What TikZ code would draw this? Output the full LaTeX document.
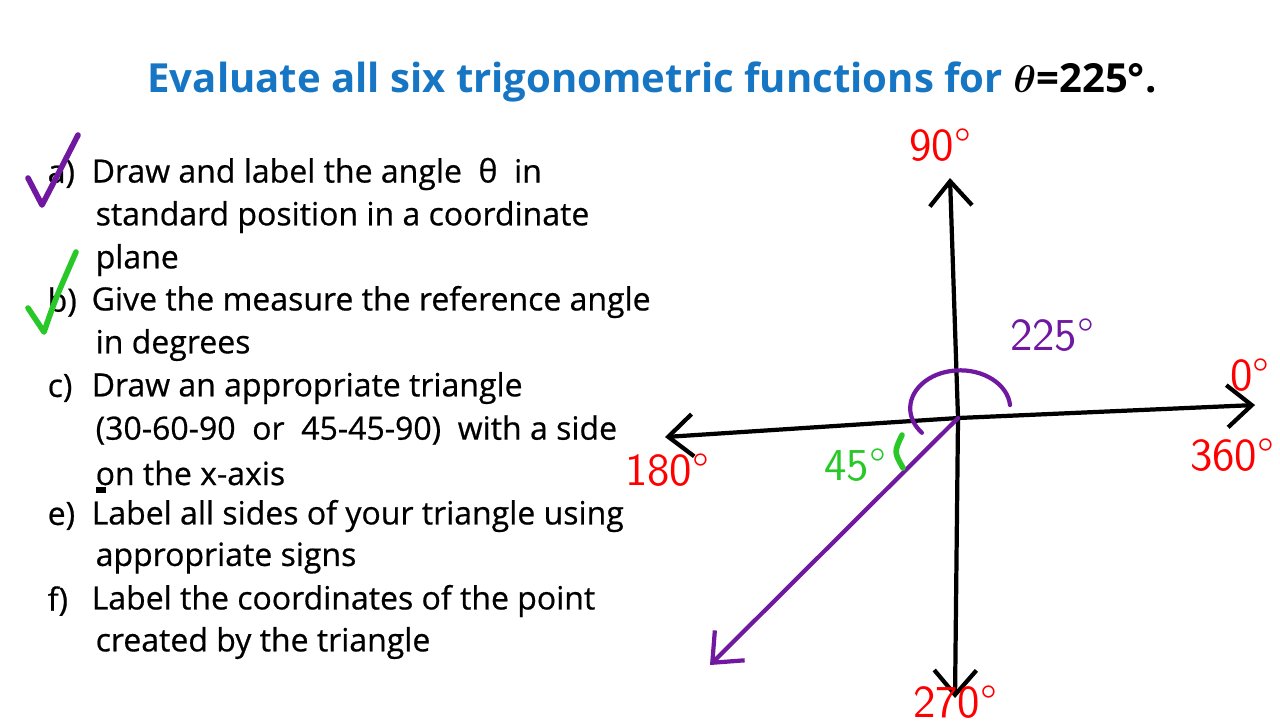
\documentclass[tikz,border=0pt]{standalone}
\usepackage{amsmath}
\usepackage{fontspec}
\setmainfont{Open Sans}
\newfontfamily\semibold[FakeBold=0.6]{Open Sans}
\usetikzlibrary{arrows.meta}
\definecolor{titleblue}{RGB}{22,118,196}
\definecolor{penpurple}{RGB}{112,24,160}
\definecolor{pengreen}{RGB}{40,200,40}
\begin{document}
\begin{tikzpicture}[x=0.01cm,y=-0.01cm,
    item/.style = {anchor=west,font=\fontsize{9.1}{12}\selectfont\semibold,inner sep=0pt},
    pen/.style = {line width=1.2pt,line cap=round,line join=round},
    hand/.style = {font=\fontsize{13}{13}\selectfont\sffamily,inner sep=0pt},
    axis/.style = {pen,black,-{Straight Barb[length=7pt,width=12pt]}}]
    \useasboundingbox (0,0) rectangle (1280,720);
    \node[font=\fontsize{11.4}{14}\selectfont\bfseries,text=titleblue] (title) at (652,82)
        {Evaluate all six trigonometric functions for \textcolor{black}{$\boldsymbol{\theta}$=225°.}};
    % list
    \foreach \y/\t [count=\k] in {174/{Draw and label the angle \ θ\ \ in},
        302/{Give the measure the reference angle},
        388/{Draw an appropriate triangle},
        516/{Label all sides of your triangle using},
        601/{Label the coordinates of the point}}
        \node[item] (line\k) at (91,\y) {\t};
    \foreach \y/\l in {174/a), 302/b), 388/c), 516/e), 601/f)}
        \node[item] (lab\l) at (47,\y) {\l};
    \foreach \y/\t [count=\k] in {217/{standard position in a coordinate},
        260/{plane}, 345/{in degrees}, 430/{(30-60-90\ \ or\ \ 45-45-90)\ \ with a side},
        473/{on the x-axis}, 558/{appropriate signs}, 643/{created by the triangle}}
        \node[item] (cont\k) at (95,\y) {\t};
    \draw[line width=1.5pt] (96,490) -- (106,490);
    % checks
    \draw[pen,penpurple,line width=1.6pt] (28,178) -- (42,205) .. controls (55,180) .. (78,135);
    \draw[pen,pengreen,line width=1.6pt] (28,308) -- (44,332) .. controls (55,300) .. (76,252);
    % axes
    \coordinate (O) at (958,418);
    \coordinate (top) at (950,178);
    \coordinate (bot) at (955,698);
    \coordinate (lft) at (665,437);
    \coordinate (rgt) at (1255,405);
    \draw[axis] (O) -- (top);
    \draw[axis] (O) -- (bot);
    \draw[axis] (O) -- (lft);
    \draw[axis] (O) -- (rgt);
    \coordinate (ray) at (710,665);
    \draw[pen,penpurple,-{Straight Barb[length=7pt,width=12pt]}] (O) -- (ray);
    \draw[pen,penpurple] (1010,405) arc[start angle=5,end angle=220,x radius=50,y radius=-38];
    \draw[pen,pengreen,line width=1.6pt] (902,435) .. controls (894,452) .. (903,468);
    % labels
    \node[hand,red] (l90) at (940,145) {90°};
    \node[hand,red] (l0) at (1250,375) {0°};
    \node[hand,red] (l360) at (1232,455) {360°};
    \node[hand,red] (l180) at (667,470) {180°};
    \node[hand,red] (l270) at (955,702) {270°};
    \node[hand,penpurple] (l225) at (1052,335) {225°};
    \node[hand,pengreen] (l45) at (855,465) {45°};
\end{tikzpicture}
\end{document}
